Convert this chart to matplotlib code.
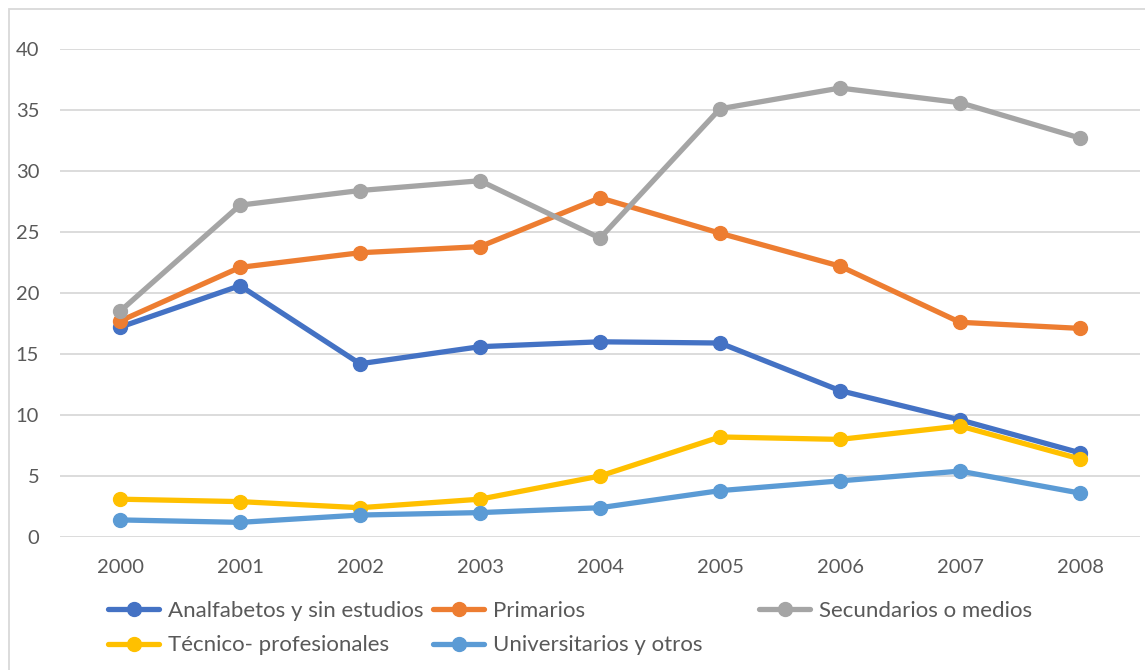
import matplotlib
matplotlib.use("Agg")
import matplotlib.pyplot as plt
from matplotlib.patches import Rectangle

years = ["2000", "2001", "2002", "2003", "2004", "2005", "2006", "2007", "2008"]
analfabetos = [17.2, 20.6, 14.2, 15.6, 16.0, 15.9, 12.0, 9.6, 6.9]
primarios = [17.7, 22.1, 23.3, 23.8, 27.8, 24.9, 22.2, 17.6, 17.1]
secundarios = [18.5, 27.2, 28.4, 29.2, 24.5, 35.1, 36.8, 35.6, 32.7]
tecnico = [3.1, 2.9, 2.4, 3.1, 5.0, 8.2, 8.0, 9.1, 6.4]
universitarios = [1.4, 1.2, 1.8, 2.0, 2.4, 3.8, 4.6, 5.4, 3.6]

names = ["Analfabetos y sin estudios", "Primarios", "Secundarios o medios",
         "Técnico- profesionales", "Universitarios y otros"]
series = [analfabetos, primarios, secundarios, tecnico, universitarios]
colors = ["#4472C4", "#ED7D31", "#A5A5A5", "#FFC000", "#5B9BD5"]

plt.rcParams['font.family'] = ['Lato', 'DejaVu Sans']

W, H = 1145, 670
fig = plt.figure(figsize=(W / 100, H / 100), dpi=100)
ax = fig.add_axes([60 / W, 1 - 537 / H, 1080 / W, 488 / H])

x = list(range(len(years)))
handles = []
for name, vals, c in zip(names, series, colors):
    h, = ax.plot(x, vals, color=c, lw=3.8, marker='o', markersize=10,
                 solid_capstyle='round', solid_joinstyle='round', label=name, zorder=3)
    handles.append(h)

ax.set_xlim(-0.5, len(years) - 0.5)
ax.set_ylim(0, 40)
ax.set_yticks(range(0, 41, 5))
ax.set_xticks(x)
ax.set_xticklabels(years)
ax.grid(axis='y', color='#D9D9D9', lw=1.3)
ax.set_axisbelow(True)
for s in ax.spines.values():
    s.set_visible(False)
ax.tick_params(axis='both', length=0, labelsize=14.5, labelcolor='#595959')
ax.tick_params(axis='y', pad=15)
ax.tick_params(axis='x', pad=16)

# legend in three columns placed like the reference
cols = [[0, 3], [1, 4], [2]]
xs = [108, 433, 759]
for ci, idxs in zip(xs, cols):
    hl = [handles[i] for i in idxs]
    lab = [names[i] for i in idxs]
    fig.legend(hl, lab, loc='upper left', bbox_to_anchor=(ci / W, 1 - 601 / H),
               frameon=False, fontsize=16, handlelength=2.3, handletextpad=0.42,
               labelspacing=0.65, borderpad=0, borderaxespad=0, labelcolor='#595959')

# outer chart border
fig.patches.append(Rectangle((8.5 / W, -0.1), 1.2, 1.1 - 9.5 / H,
                             transform=fig.transFigure, fill=False,
                             edgecolor='#D9D9D9', lw=1.3))

fig.savefig("out.png", dpi=100)
